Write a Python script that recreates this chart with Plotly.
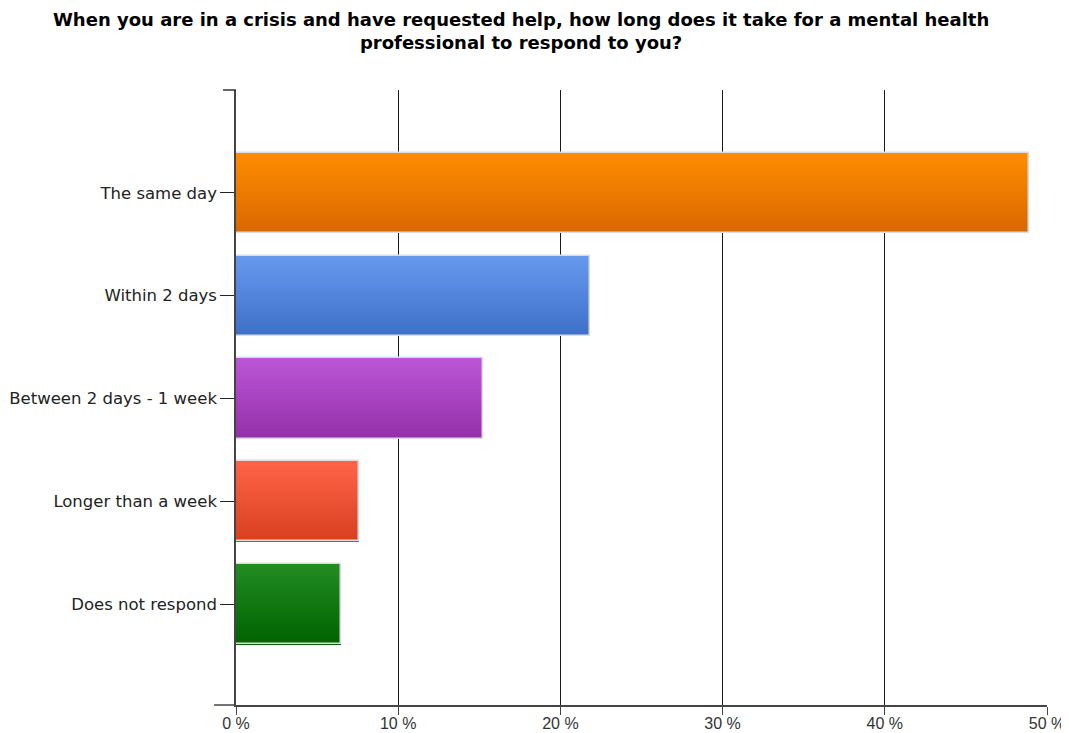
import plotly.graph_objects as go

categories = ["The same day", "Within 2 days", "Between 2 days - 1 week",
              "Longer than a week", "Does not respond"]
values = [48.9, 21.8, 15.2, 7.6, 6.5]
x_ticks = [0, 10, 20, 30, 40, 50]
x_tick_labels = ["0 %", "10 %", "20 %", "30 %", "40 %", "50 %"]

top_colors = ["#FF8C00", "#6699EE", "#BB55D5", "#FF6347", "#228B22"]
bottom_colors = ["#D96800", "#3F70C8", "#9530AA", "#D84020", "#006400"]


def hex2rgb(h):
    h = h.lstrip("#")
    return tuple(int(h[i:i + 2], 16) for i in (0, 2, 4))


def mix(c1, c2, t):
    a, b = hex2rgb(c1), hex2rgb(c2)
    return "rgb(%d,%d,%d)" % tuple(round(a[i] + (b[i] - a[i]) * t) for i in range(3))


BAR_W = 0.78
N = 24
fig = go.Figure()
for i in range(N):
    t = i / (N - 1)
    fig.add_trace(go.Bar(
        x=values, y=categories, orientation="h",
        width=BAR_W / N * 1.08, offset=-BAR_W / 2 + i * BAR_W / N,
        marker=dict(color=[mix(tc, bc, t) for tc, bc in zip(top_colors, bottom_colors)],
                    line=dict(width=0)),
        showlegend=False, hoverinfo="skip"))
# outline
fig.add_trace(go.Bar(
    x=values, y=categories, orientation="h", width=BAR_W,
    marker=dict(color="rgba(0,0,0,0)", line=dict(color="#dcdcdc", width=1.5)),
    showlegend=False, hoverinfo="x+y"))

# page has an 8px body margin, so the figure is sized/offset accordingly
fig.update_layout(
    width=1061, height=725,
    paper_bgcolor="white", plot_bgcolor="white",
    barmode="overlay", bargap=0,
    margin=dict(l=228, r=22, t=82, b=28, autoexpand=False),
    xaxis=dict(
        range=[0, 50], tickvals=x_ticks, ticktext=x_tick_labels,
        showgrid=True, gridcolor="#1a1a1a", gridwidth=1,
        showline=True, linecolor="#444444", linewidth=1.5,
        ticks="outside", ticklen=8, tickcolor="#444444",
        ticklabelstandoff=-5,
        tickfont=dict(family="Liberation Sans Narrow, Arial Narrow, Liberation Sans", size=16, color="#333333"),
        zeroline=False, automargin=False),
    yaxis=dict(
        categoryorder="array", categoryarray=categories,
        range=[4.98, -1.0],
        showline=True, linecolor="#444444", linewidth=1.5,
        ticks="outside", ticklen=14, tickcolor="#222222",
        tickfont=dict(family="DejaVu Sans, Verdana", size=16.5, color="#222222"),
        showgrid=False, zeroline=False, automargin=False),
)
fig.add_annotation(
    text="When you are in a crisis and have requested help, how long does it take for a mental health<br>professional to respond to you?",
    xref="paper", yref="paper", x=(521 - 236) / (1047 - 236), y=1, yshift=35,
    xanchor="center", yanchor="bottom", showarrow=False, align="center",
    font=dict(family="DejaVu Sans, Verdana", size=18, color="black", weight="bold"))
# top tick on left axis and left extension of bottom axis line
fig.add_shape(type="line", xref="paper", yref="paper", x0=-0.016, x1=0, y0=1, y1=1,
              line=dict(color="#333333", width=1.5))
fig.add_shape(type="line", xref="paper", yref="paper", x0=-0.027, x1=0, y0=0, y1=0,
              line=dict(color="#444444", width=1.5))

fig.write_html("out.html")
